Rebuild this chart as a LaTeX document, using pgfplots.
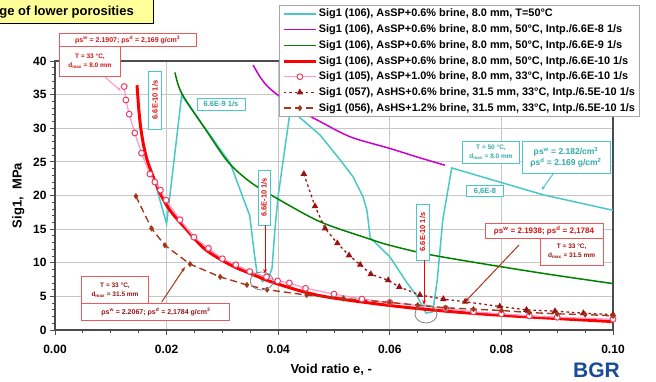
\documentclass[border=0pt]{standalone}
\usepackage{fontspec}
\setmainfont{Liberation Sans}
\usepackage{pgfplots}
\pgfplotsset{compat=1.18}
\usetikzlibrary{arrows.meta}

\definecolor{cy}{RGB}{72,200,200}
\definecolor{cyt}{RGB}{50,170,170}
\definecolor{mg}{RGB}{204,0,204}
\definecolor{gr}{RGB}{0,128,0}
\definecolor{rd}{RGB}{255,0,0}
\definecolor{pk}{RGB}{255,150,200}
\definecolor{pkm}{RGB}{235,60,100}
\definecolor{dr}{RGB}{150,20,20}
\definecolor{br}{RGB}{165,55,25}
\definecolor{bgr}{RGB}{25,75,150}
\definecolor{ylw}{RGB}{255,255,153}
\definecolor{rdb}{RGB}{235,90,90}
\definecolor{rdt}{RGB}{210,20,20}

\begin{document}
\begin{tikzpicture}
\path[use as bounding box] (-55pt,-51pt) rectangle (601pt,330pt);
\begin{axis}[
  at={(0pt,0pt)}, anchor=south west,
  scale only axis, width=558pt, height=269pt,
  xmin=0, xmax=0.1, ymin=0, ymax=40,
  xtick={0,0.02,0.04,0.06,0.08,0.1},
  ytick={0,5,10,15,20,25,30,35,40},
  minor x tick num=3, minor y tick num=4,
  scaled x ticks=false,
  tick pos=left, tick align=outside,
  major tick length=5pt, minor tick length=3pt,
  tick style={gray!60!black, line width=0.8pt},
  grid=major,
  major grid style={line width=1pt, color=gray!45},
  axis line style={line width=1.5pt, draw=gray!60!black},
  ticklabel style={font=\fontsize{12}{14}\bfseries\selectfont},
  /pgf/number format/assume math mode=true,
  xticklabel style={yshift=-7pt, /pgf/number format/.cd, fixed, fixed zerofill, precision=2, assume math mode=true},
  xlabel={Void ratio e, -},
  ylabel={Sig1,\ \ MPa},
  xlabel style={font=\fontsize{13}{15}\bfseries\selectfont, at={(axis description cs:0.495,-0.149)}, anchor=center},
  ylabel style={font=\fontsize{13}{15}\bfseries\selectfont, at={(axis description cs:-0.066,0.5)}, anchor=center},
  legend style={at={(axis description cs:0.4014,1.2082)}, anchor=north west,
    font=\fontsize{10.9}{12}\bfseries\selectfont, draw=gray!70, line width=0.8pt, fill=white,
    inner xsep=3pt, inner ysep=1pt, row sep=0.7pt,
    nodes={inner sep=1.5pt, text height=9pt, text depth=3pt}},
  legend cell align=left,
  legend image code/.code={\draw[mark repeat=2,mark phase=2,#1] plot coordinates {(0pt,0pt) (16pt,0pt) (32pt,0pt)};},
  clip=false,
]
% 1 cyan measured
\addplot[cy, line width=1.5pt] coordinates {
(0.0182,21.1) (0.0200,15.8) (0.0227,34.9) (0.0270,29.9) (0.0314,24.8)
(0.0349,17.0) (0.0357,11.5) (0.0362,8.5) (0.0372,7.2) (0.0383,7.8)
(0.0389,9.2) (0.0394,14.9) (0.0400,20.0) (0.0421,32.3) (0.0425,33.8)
(0.0433,32.0) (0.0475,29.0) (0.0511,25.3) (0.0534,22.8) (0.0552,19.8)
(0.0559,17.8) (0.0565,13.7) (0.0600,10.9) (0.0631,7.0) (0.0650,4.9)
(0.0658,3.6) (0.0665,2.5) (0.0677,2.7) (0.0685,7.4) (0.0695,16.4)
(0.0711,24.1) (0.0797,22.0) (0.0875,20.1) (0.1000,17.8)};
\addlegendentry{Sig1 (106), AsSP+0.6\% brine, 8.0 mm, T=50°C}
% 2 magenta
\addplot[mg, line width=1.5pt, smooth] coordinates {
(0.0355,39.4) (0.0367,37.7) (0.0380,36.3) (0.0400,34.9) (0.0440,32.6)
(0.0475,31.0) (0.0530,28.7) (0.0600,27.0) (0.0650,25.7) (0.0699,24.5)};
\addlegendentry{Sig1 (106), AsSP+0.6\% brine, 8.0 mm, 50°C, Intp./6.6E-8 1/s}
% 3 green
\addplot[gr, line width=1.5pt, smooth] coordinates {
(0.0215,38.3) (0.0227,35.2) (0.0270,29.8) (0.0310,25.0) (0.0350,22.0)
(0.0395,19.7) (0.0475,16.1) (0.0565,13.5) (0.0600,12.6) (0.0672,11.2)
(0.0800,9.4) (0.0900,8.1) (0.1000,6.9)};
\addlegendentry{Sig1 (106), AsSP+0.6\% brine, 8.0 mm, 50°C, Intp./6.6E-9 1/s}
% 4 red thick
\addplot[rd, line width=3pt, smooth] coordinates {
(0.0147,36.4) (0.0150,33.0) (0.0153,30.5) (0.0158,27.8) (0.0165,25.3)
(0.0175,23.0) (0.0188,20.4) (0.0206,17.8) (0.0233,15.2) (0.0269,12.0)
(0.0314,9.7) (0.0350,8.4) (0.0397,6.9) (0.0475,5.1) (0.0594,3.7)
(0.0700,2.8) (0.0797,2.2) (0.0900,1.7) (0.1000,1.25)};
\addlegendentry{Sig1 (106), AsSP+0.6\% brine, 8.0 mm, 50°C, Intp./6.6E-10 1/s}
% 5 pink with circles
\addplot[pk, line width=1.2pt, mark=*, mark size=2.9pt, mark options={draw=pkm, fill=white, line width=1pt}] coordinates {
(0.0124,36.2) (0.0127,34.2) (0.0133,32.1) (0.0143,29.3) (0.0155,26.3)
(0.0170,23.2) (0.0179,22.0) (0.0189,20.8) (0.0199,19.3) (0.0224,16.4)
(0.0249,13.8) (0.0275,12.15) (0.0300,10.6) (0.0324,9.7) (0.0349,8.7)
(0.0379,7.9) (0.0399,7.3) (0.0420,7.0) (0.0449,6.2) (0.0500,5.35)
(0.0550,4.6) (0.0600,4.1) (0.0700,3.2) (0.0750,2.7) (0.0800,2.4)
(0.0850,2.1) (0.0900,1.9) (0.1000,1.6)};
\addlegendentry{Sig1 (105), AsSP+1.0\% brine, 8.0 mm, 33°C, Intp./6.6E-10 1/s}
% 6 dark red dotted triangles
\addplot[dr, line width=1.3pt, dash pattern=on 2.5pt off 3pt, mark=triangle*, mark size=2.6pt, mark options={solid, fill=dr}] coordinates {
(0.0446,23.2) (0.0466,18.4) (0.0484,15.1) (0.0506,12.9) (0.0527,11.1)
(0.0547,9.7) (0.0566,8.3) (0.0597,7.4) (0.0617,6.4) (0.0654,5.2)
(0.0696,4.6) (0.0735,4.2) (0.0797,3.5) (0.0845,3.0) (0.0896,2.8)
(0.0947,2.5) (0.1000,2.3)};
\addlegendentry{Sig1 (057), AsHS+0.6\% brine, 31.5 mm, 33°C, Intp./6.5E-10 1/s}
% 7 brown dashed
\addplot[br, line width=1.4pt, dash pattern=on 7pt off 4pt, mark=diamond*, mark size=2pt, mark options={solid, fill=br}] coordinates {
(0.0145,19.9) (0.0173,15.1) (0.0197,12.6) (0.0242,9.8) (0.0296,7.9)
(0.0344,6.7) (0.0380,6.0) (0.0451,5.2) (0.0517,4.7) (0.0600,4.1)
(0.0650,3.7) (0.0700,3.3) (0.0750,3.1) (0.0800,2.9) (0.0850,2.6)
(0.0900,2.4) (0.0950,2.3) (0.1000,2.1)};
\addlegendentry{Sig1 (056), AsHS+1.2\% brine, 31.5 mm, 33°C, Intp./6.5E-10 1/s}
\end{axis}

\begin{scope}[x=1pt, y=-1pt, shift={(-55pt,330pt)}]
% title box
\draw[fill=ylw, draw=black, line width=1pt] (-5,-5) rectangle (153,24);
\node[anchor=east, inner sep=0pt, font=\fontsize{13}{15}\bfseries\selectfont] at (134,12) {ge of lower porosities};
% top-left red annotation
\node[draw=rdb, fill=white, line width=0.8pt, inner sep=0pt, text=rdt, font=\fontsize{7}{8}\bfseries\selectfont, minimum width=137pt, minimum height=13.4pt] at (127.7,40) {ρs\textsuperscript{w} = 2.1907; ρs\textsuperscript{d} = 2,169 g/cm\textsuperscript{3}};
\node[draw=rdb, fill=white, line width=0.8pt, inner sep=0pt, text=rdt, align=center, font=\fontsize{6.5}{9}\bfseries\selectfont, minimum width=61.4pt, minimum height=30pt] at (90,61.7) {T = 33 °C,\\d\textsubscript{max} = 8.0 mm};
\draw[pk, line width=1pt, -{Stealth[length=4pt]}] (105,77) -- (121,91);
% vertical rate labels
\node[draw=cy, fill=white, line width=0.8pt, rotate=90, inner sep=0pt, text=rdt, font=\fontsize{7.5}{8}\bfseries\selectfont, minimum width=58pt, minimum height=13pt] at (155,100) {6.6E-10 1/s};
\node[draw=cy, fill=white, line width=0.8pt, inner sep=0pt, text=cyt, font=\fontsize{7.5}{8}\bfseries\selectfont, minimum width=48pt, minimum height=12pt] at (221,104) {6.6E-9 1/s};
\node[draw=cy, fill=white, line width=0.8pt, rotate=90, inner sep=0pt, text=rdt, font=\fontsize{7.5}{8}\bfseries\selectfont, minimum width=55pt, minimum height=12pt] at (264,197.5) {6.6E-10 1/s};
\draw[rd, line width=1pt, -{Stealth[length=5pt]}] (265,225) -- (265,274);
\draw[gray, line width=0.8pt] (261.7,281) ellipse [x radius=11.5pt, y radius=9pt];
\node[draw=cy, fill=white, line width=0.8pt, rotate=90, inner sep=0pt, text=rdt, font=\fontsize{7.5}{8}\bfseries\selectfont, minimum width=56pt, minimum height=13pt] at (422.5,232) {6.6E-10 1/s};
\draw[rd, line width=1pt, -{Stealth[length=5pt]}] (424,260) -- (424,305);
\draw[gray, line width=0.8pt] (426,314) ellipse [x radius=11pt, y radius=9pt];
% right cyan annotations
\node[draw=cy, fill=white, line width=0.8pt, inner sep=0pt, text=cyt, align=center, font=\fontsize{6.5}{9}\bfseries\selectfont, minimum width=57pt, minimum height=21.6pt] at (491,152.5) {T = 50 °C,\\d\textsubscript{max} = 8.0 mm};
\node[draw=cy, fill=white, line width=0.8pt, inner sep=0pt, text=cyt, align=center, font=\fontsize{8.5}{11}\bfseries\selectfont, minimum width=88pt, minimum height=31.6pt] at (566,157.5) {ρs\textsuperscript{w} = 2.182/cm\textsuperscript{3}\\ρs\textsuperscript{d} = 2.169 g/cm\textsuperscript{2}};
\draw[cy, line width=1pt, -{Stealth[length=4pt]}] (553,174) -- (541.7,190);
\node[draw=cy, fill=white, line width=0.8pt, inner sep=0pt, text=cyt, font=\fontsize{7.5}{8}\bfseries\selectfont, minimum width=36.6pt, minimum height=11.7pt] at (485,191) {6,6E-8};
% right red annotations
\node[draw=rdb, fill=white, line width=0.8pt, inner sep=0pt, text=rdt, font=\fontsize{8}{9}\bfseries\selectfont, minimum width=118pt, minimum height=15pt] at (544,231) {ρs\textsuperscript{w} = 2.1938; ρs\textsuperscript{d} = 2,1784};
\node[draw=rdb, fill=white, line width=0.8pt, inner sep=0pt, text=dr, align=center, font=\fontsize{6.5}{9}\bfseries\selectfont, minimum width=63pt, minimum height=26.7pt] at (571.7,251.7) {T = 33 °C,\\d\textsubscript{max} = 31.5 mm};
\draw[br, line width=1pt, -{Stealth[length=5pt]}] (519,245) -- (465,302);
% bottom-left annotations
\node[draw=rdb, fill=white, line width=0.8pt, inner sep=0pt, text=dr, align=center, font=\fontsize{6.5}{9}\bfseries\selectfont, minimum width=66.6pt, minimum height=26.6pt] at (115,290) {T = 33 °C,\\d\textsubscript{max} = 31.5 mm};
\node[draw=rdb, fill=white, line width=0.8pt, inner sep=0pt, text=dr, font=\fontsize{7}{8}\bfseries\selectfont, minimum width=148pt, minimum height=16.7pt] at (155.8,311.7) {ρs\textsuperscript{w} = 2.2067; ρs\textsuperscript{d} = 2,1784 g/cm\textsuperscript{3}};
\draw[br, line width=1pt, -{Stealth[length=5pt]}] (161.7,302) -- (185,267);
% logo
\node[anchor=base west, inner sep=0pt, text=bgr, font=\fontsize{21}{24}\bfseries\selectfont] at (573,377) {BGR};
\end{scope}
\end{tikzpicture}
\end{document}
